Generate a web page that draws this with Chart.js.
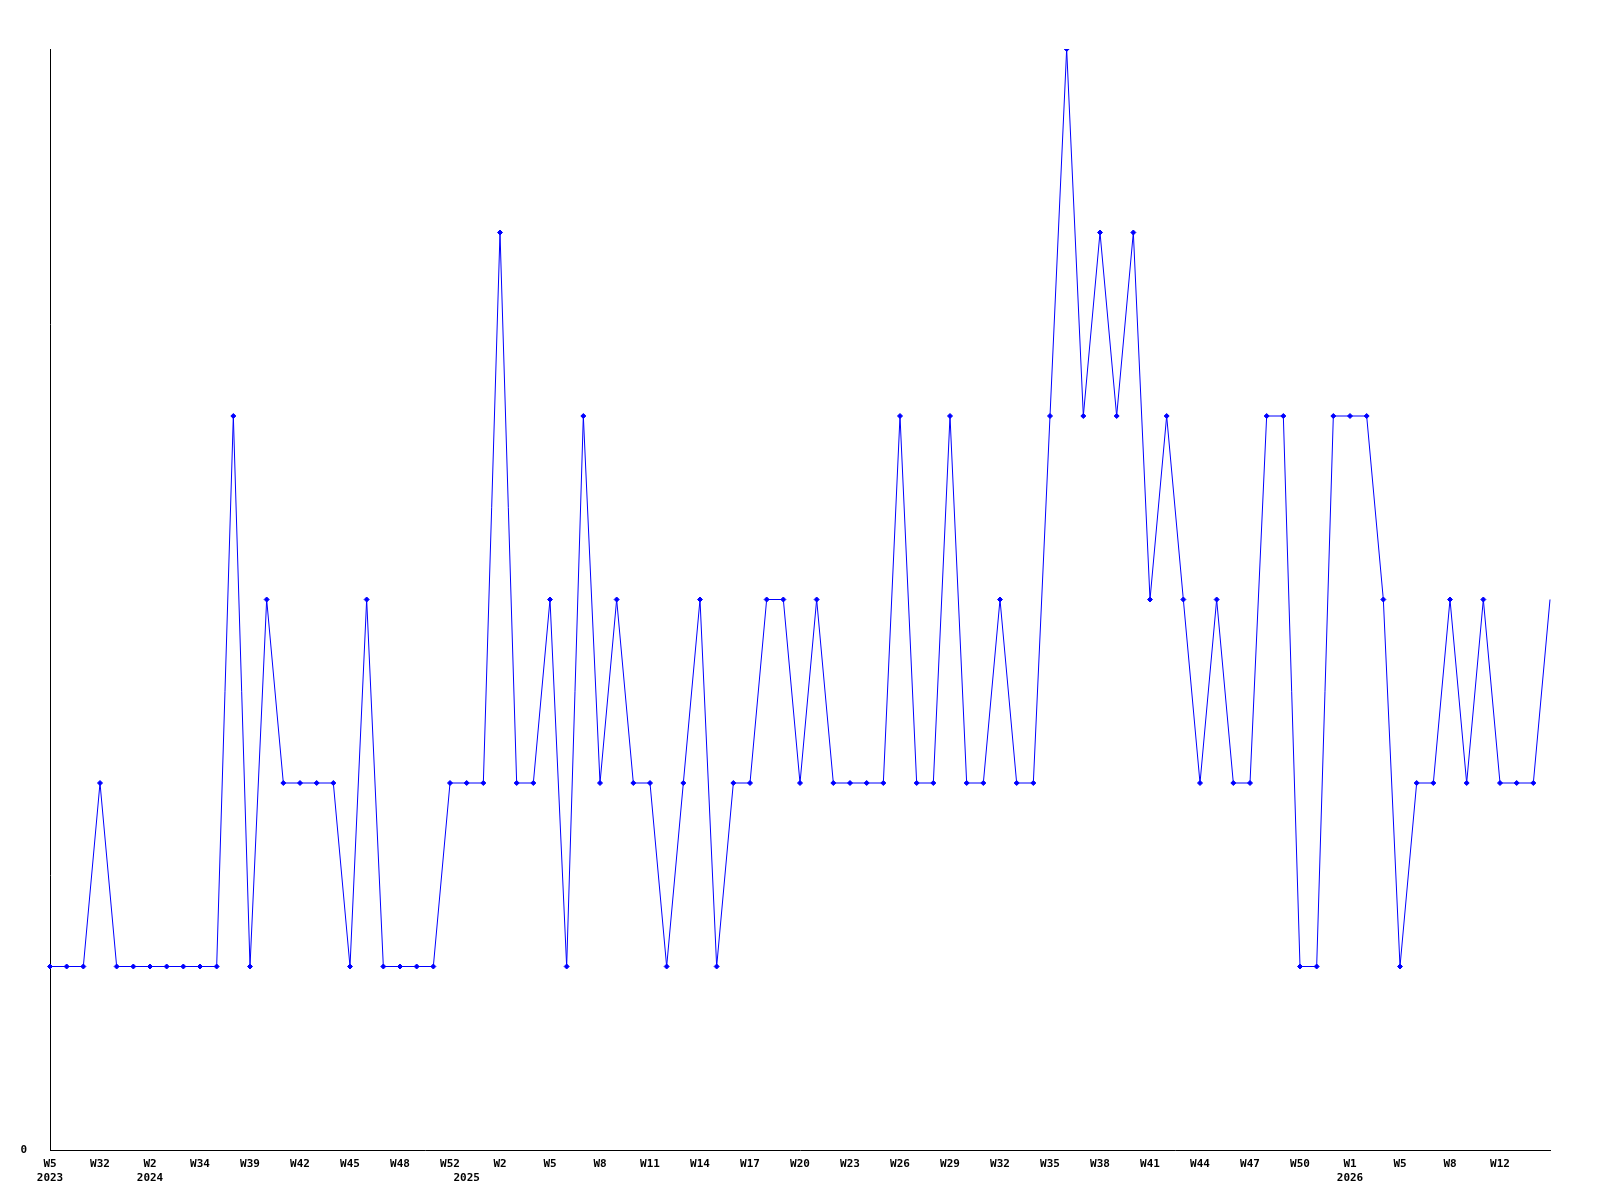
<!DOCTYPE html>
<html>
<head>
<meta charset="utf-8">
<script src="https://cdn.jsdelivr.net/npm/chart.js@4/dist/chart.umd.min.js"></script>
<style>
html,body{margin:0;padding:0;background:#fff;}
#wrap{width:1600px;height:1200px;}
</style>
</head>
<body>
<div id="wrap"><canvas id="c" width="1600" height="1200"></canvas></div>
<script>
// Week categories (every third is labelled on the axis)
const weeks = [
  'W5','W6','W7','W32','W34','W40','W2','W3','W33','W34',
  'W36','W37','W39','W40','W41','W42','W43','W44','W45','W46',
  'W47','W48','W49','W51','W52','W1','W1','W2','W3','W4',
  'W5','W6','W7','W8','W9','W10','W11','W12','W13','W14',
  'W15','W16','W17','W18','W19','W20','W21','W22','W23','W24',
  'W25','W26','W27','W28','W29','W30','W31','W32','W33','W34',
  'W35','W36','W37','W38','W39','W40','W41','W42','W43','W44',
  'W45','W46','W47','W48','W49','W50','W51','W52','W1','W2',
  'W3','W5','W6','W7','W8','W9','W11','W12','W13','W14','W15'
];
// Year markers shown on the second label line (category index -> year)
const yearIndex = [0, 6, 25, 78];
const yearText  = ['2023', '2024', '2025', '2026'];
// Series values
const counts = [
  1,1,1,2,1,1,1,1,1,1,
  1,4,1,3,2,2,2,2,1,3,
  1,1,1,1,2,2,2,5,2,2,
  3,1,4,2,3,2,2,1,2,3,
  1,2,2,3,3,2,3,2,2,2,
  2,4,2,2,4,2,2,3,2,2,
  4,6,4,5,4,5,3,4,3,2,
  3,2,2,4,4,1,1,4,4,4,
  3,1,2,2,3,2,3,2,2,2,3
];
const yTickLabels = ['0'];

const font = {family: "'DejaVu Sans Mono', monospace", size: 11, weight: 'bold'};

new Chart(document.getElementById('c'), {
  type: 'line',
  data: {
    labels: weeks,
    datasets: [{
      data: counts,
      borderColor: '#0000ff',
      backgroundColor: '#0000ff',
      borderWidth: 1,
      tension: 0,
      fill: false,
      pointStyle: 'rectRot',
      pointRadius: (ctx) => ctx.dataIndex === counts.length - 1 ? 0 : 2.5,
      pointBorderWidth: 1,
      pointHoverRadius: 2.5
    }]
  },
  options: {
    responsive: false,
    animation: false,
    devicePixelRatio: 1,
    plugins: {legend: {display: false}, tooltip: {enabled: false}},
    layout: {padding: {top: 49, right: 50, left: 0, bottom: 0}},
    scales: {
      x: {
        type: 'category',
        offset: false,
        grid: {display: false},
        border: {display: true, color: '#000', width: 1},
        afterFit: (s) => { s.height = 50; },
        ticks: {
          autoSkip: false,
          maxRotation: 0,
          minRotation: 0,
          padding: 0,
          color: '#000',
          font: font,
          callback: function(value, index) {
            const yi = yearIndex.indexOf(index);
            const showWeek = index % 3 === 0 && index < weeks.length - 1;
            const w = showWeek ? weeks[index] : '';
            if (yi >= 0) return [w, yearText[yi]];
            return w;
          }
        }
      },
      y: {
        min: 0,
        max: 6,
        grid: {display: false},
        border: {display: true, color: '#000', width: 1},
        afterFit: (s) => { s.width = 50; },
        ticks: {
          stepSize: 1,
          padding: 15,
          color: '#000',
          font: font,
          callback: (v) => (v === 0 ? yTickLabels[0] : '')
        }
      }
    }
  }
});
</script>
</body>
</html>
